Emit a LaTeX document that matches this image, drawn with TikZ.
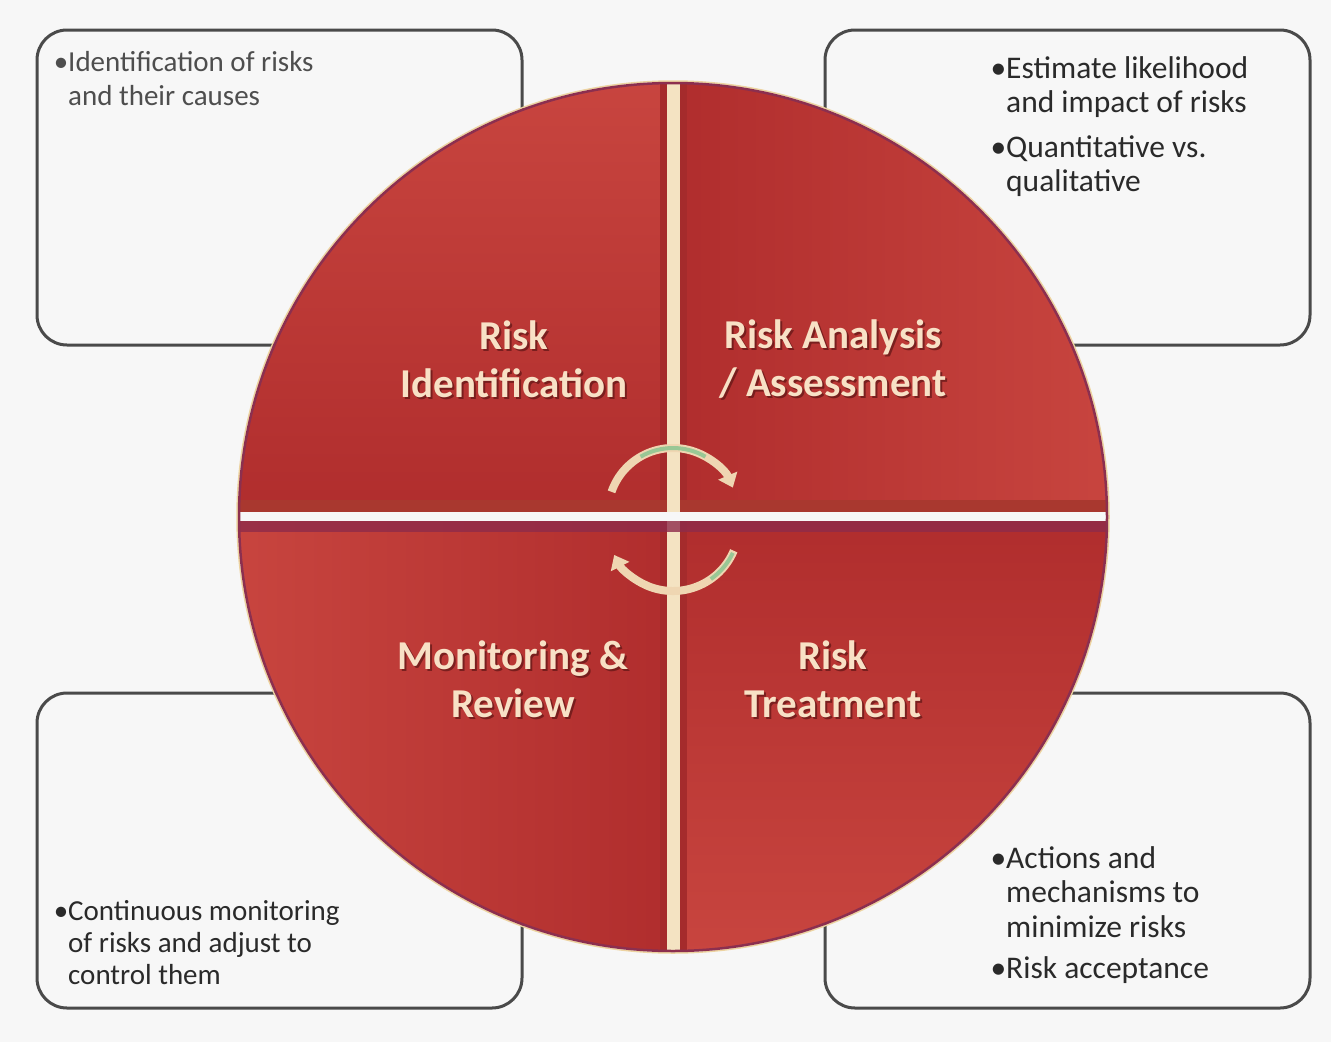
\documentclass[tikz,border=0pt]{standalone}
\usepackage{fontspec}
\setmainfont{Carlito}
\usetikzlibrary{arrows.meta}

\definecolor{pagebg}{HTML}{F7F7F7}
\definecolor{boxline}{HTML}{4A4A4A}
\definecolor{bodytext}{HTML}{2A2A2A}
\definecolor{softtext}{HTML}{4E4E4E}
\definecolor{redlight}{HTML}{C8453F}
\definecolor{reddark}{HTML}{B02D2D}
\definecolor{redband}{HTML}{A52B2C}
\definecolor{rim}{HTML}{8C2F4F}
\definecolor{rimglow}{HTML}{EDD3A0}
\definecolor{cream}{HTML}{F4E3C2}
\definecolor{maroonstrip}{HTML}{8E2B4A}
\definecolor{labelcream}{HTML}{F8E1C6}
\definecolor{labelshadow}{HTML}{5E1515}
\definecolor{cyclecream}{HTML}{EFD6B2}
\definecolor{cyclegreen}{HTML}{7DC38C}

\tikzset{
  infobox/.style={draw=boxline, line width=3pt, rounded corners=30pt, fill=pagebg},
  boxtext/.style={inner sep=0pt, anchor=north west, align=left, text=bodytext,
    font=\fontsize{29}{34}\selectfont},
  widetext/.style={boxtext, font=\fontsize{31.5}{34.5}\selectfont},
  quadlabel/.style={inner sep=0pt, align=center, text=labelcream,
    font=\bfseries\fontsize{41}{48}\selectfont},
  quadshadow/.style={inner sep=0pt, align=center, text=labelshadow, opacity=0.7,
    font=\bfseries\fontsize{41}{48}\selectfont},
  cyclearc/.style={draw=cyclecream, line width=8pt,
    -{Triangle[width=20pt,length=13pt]}},
  cyclehint/.style={draw=cyclegreen, line width=4pt, opacity=0.75},
}

\begin{document}
\begin{tikzpicture}[x=1pt, y=-1pt]
  % page
  \fill[pagebg] (0,0) rectangle (1331,1042);
  \useasboundingbox (0,0) rectangle (1331,1042);

  % four description boxes behind the wheel
  \draw[infobox] (37,30) rectangle (522,345);
  \draw[infobox] (825,30) rectangle (1310,345);
  \draw[infobox] (37,693) rectangle (522,1008);
  \draw[infobox] (825,693) rectangle (1310,1008);

  \node[boxtext, text=softtext] (tl-text) at (68,51)
    {\llap{\textbullet}Identification of risks\\and their causes};
  \node[widetext] (tr-text) at (1006,56)
    {\llap{\textbullet}Estimate likelihood\\and impact of risks\\[10pt]%
     \llap{\textbullet}Quantitative vs.\\qualitative};
  \node[boxtext, font=\fontsize{29}{32}\selectfont] (bl-text) at (68,900)
    {\llap{\textbullet}Continuous monitoring\\of risks and adjust to\\control them};
  \node[widetext] (br-text) at (1006,846)
    {\llap{\textbullet}Actions and\\mechanisms to\\minimize risks\\[7pt]%
     \llap{\textbullet}Risk acceptance};

  % the wheel
  \coordinate (hub) at (673,517);
  \begin{scope}
    \clip (hub) circle[radius=434];
    % quadrant fills, each with its own soft gradient
    \shade[top color=redlight, bottom color=reddark] (230,80) rectangle (673,517);
    \shade[left color=reddark, right color=redlight] (673,80) rectangle (1115,517);
    \shade[left color=redlight, right color=reddark] (230,517) rectangle (673,955);
    \shade[top color=reddark, bottom color=redlight] (673,517) rectangle (1115,955);
    % dividers
    \fill[redband] (660,80) rectangle (687,955);
    \fill[redband!85!brown] (230,500) rectangle (1115,512);
    \fill[cream] (667,80) rectangle (680,955);
    \fill[maroonstrip, opacity=0.8] (230,521) rectangle (1115,532);
    \fill[pagebg] (230,512) rectangle (1115,521);
  \end{scope}
  \draw[rimglow, line width=1.5pt] (hub) circle[radius=436];
  \draw[rim, line width=2.5pt] (hub) circle[radius=434];

  % cycle arrows at the hub
  \coordinate (upper-c) at (673,513);
  \coordinate (lower-c) at (673,525);
  \draw[cyclearc] ([shift={(-161:65)}]upper-c) arc[start angle=-161, end angle=-23, radius=65];
  \draw[cyclehint] ([shift={(-120:65)}]upper-c) arc[start angle=-120, end angle=-60, radius=65];
  \draw[cyclearc] ([shift={(23:66)}]lower-c) arc[start angle=23, end angle=153, radius=66];
  \draw[cyclehint] ([shift={(25:66)}]lower-c) arc[start angle=25, end angle=55, radius=66];

  % quadrant labels
  \node[quadshadow] at (516,361) {Risk\\Identification};
  \node[quadlabel] (q-ident) at (514,359) {Risk\\Identification};
  \node[quadshadow] at (835,361) {Risk Analysis\\/ Assessment};
  \node[quadlabel] (q-assess) at (833,359) {Risk Analysis\\/ Assessment};
  \node[quadshadow] at (515,681) {Monitoring \&\\Review};
  \node[quadlabel] (q-monitor) at (513,679) {Monitoring \&\\Review};
  \node[quadshadow] at (835,681) {Risk\\Treatment};
  \node[quadlabel] (q-treat) at (833,679) {Risk\\Treatment};
\end{tikzpicture}
\end{document}
